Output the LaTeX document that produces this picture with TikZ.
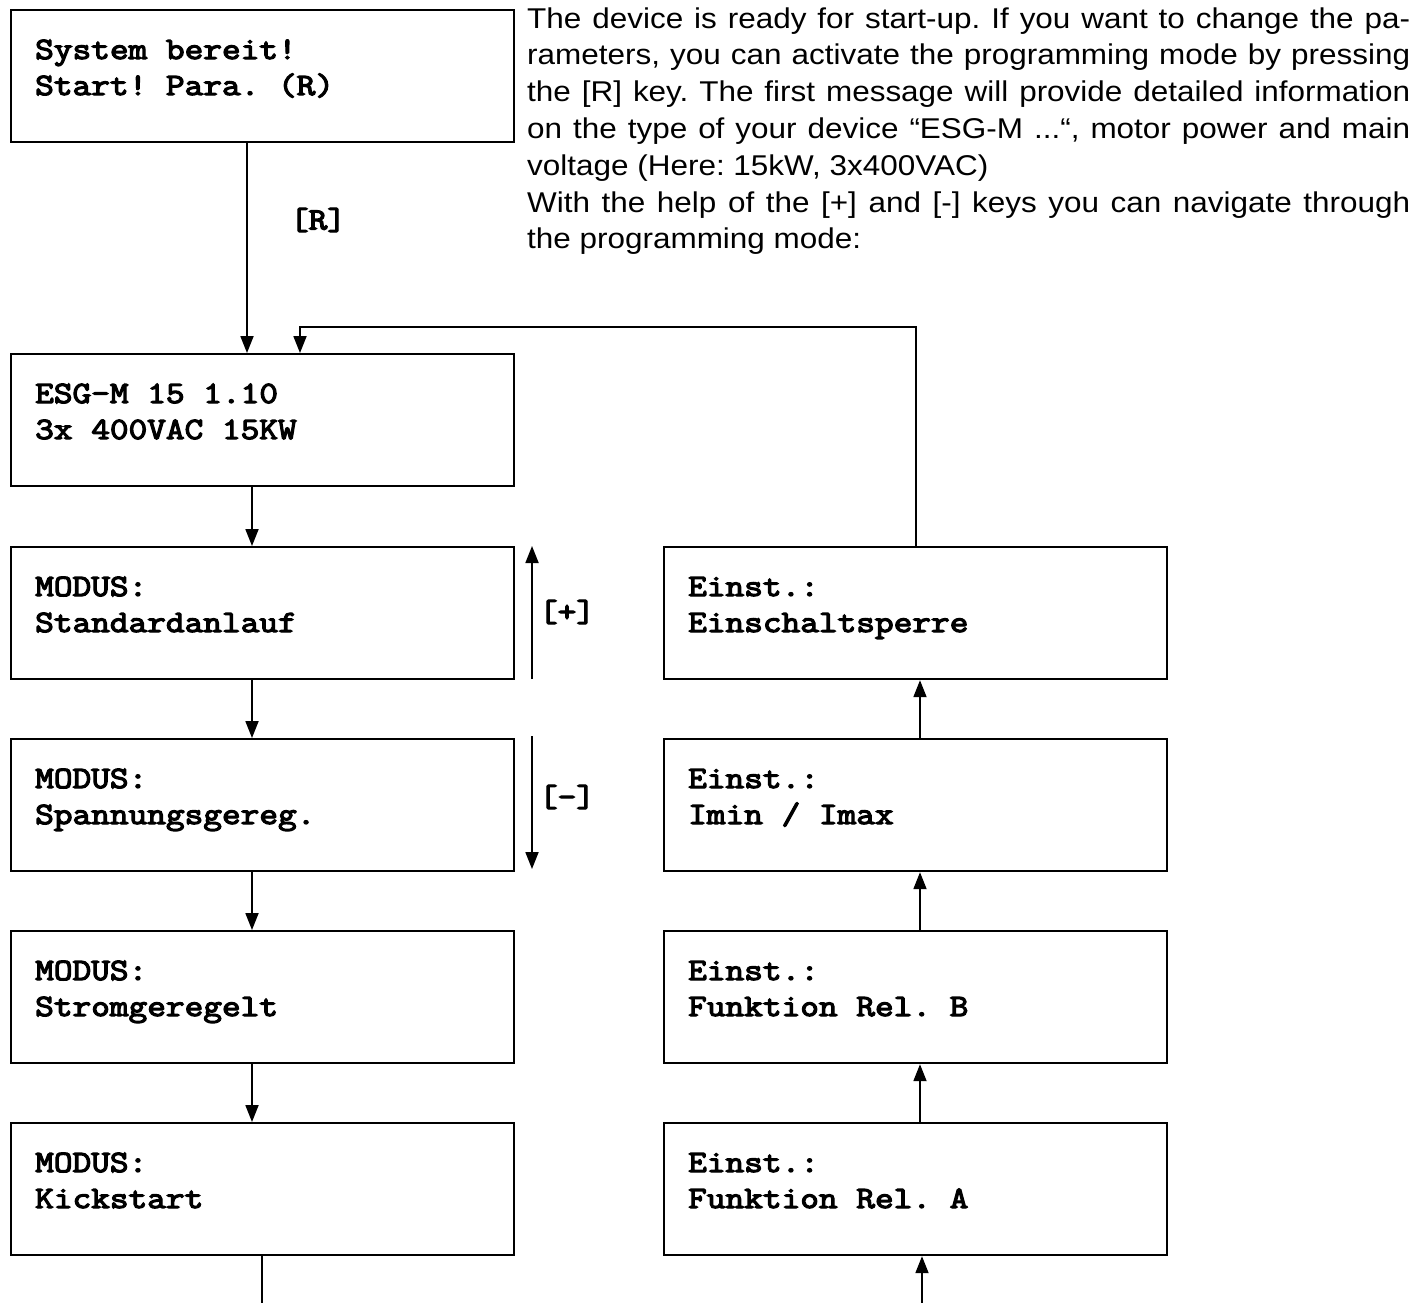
\documentclass[tikz,border=0pt]{standalone}
\usepackage{fontspec}
\setmainfont{Liberation Sans}
\newfontfamily\parafont[FakeStretch=1.1]{Liberation Sans}
\newfontfamily\lcdfont[FakeStretch=1.17,FakeBold=4]{Latin Modern Mono}
\usetikzlibrary{arrows.meta,calc}
\begin{document}
\begin{tikzpicture}[x=1pt,y=-1pt,
  box/.style={draw, line width=2.2pt, minimum width=503pt, minimum height=132pt, anchor=north west, inner sep=0pt},
  lcd/.style={font=\lcdfont\fontsize{31}{36}\selectfont\frenchspacing, anchor=base west, inner sep=0pt},
  key/.style={font=\lcdfont\fontsize{31}{36}\selectfont\frenchspacing, inner sep=0pt},
  arr/.style={line width=1.8pt, -{Triangle[length=17pt,width=13pt]}},
  ln/.style={line width=1.8pt}]
\useasboundingbox (0,0) rectangle (1421,1302);
\newcommand\lcdbox[5]{%
  \node[box] (#1) at (#2,#3) {};
  \node[lcd] (#1a) at ($(#1.north west)+(25,50)$) {#4};
  \node[lcd] (#1b) at ($(#1.north west)+(25,86)$) {#5};}
\lcdbox{b0}{10}{9}{System bereit!}{Start! Para. (R)}
\lcdbox{b1}{10}{353}{ESG-M 15 1.10}{3x 400VAC 15KW}
\lcdbox{L1}{10}{546}{MODUS:}{Standardanlauf}
\lcdbox{L2}{10}{738}{MODUS:}{Spannungsgereg.}
\lcdbox{L3}{10}{930}{MODUS:}{Stromgeregelt}
\lcdbox{L4}{10}{1122}{MODUS:}{Kickstart}
\lcdbox{R1}{663}{546}{Einst.:}{Einschaltsperre}
\lcdbox{R2}{663}{738}{Einst.:}{Imin / Imax}
\lcdbox{R3}{663}{930}{Einst.:}{Funktion Rel. B}
\lcdbox{R4}{663}{1122}{Einst.:}{Funktion Rel. A}

\node[anchor=base west, inner sep=0pt] (para) at (527,28) {\parbox[t]{883pt}{\parafont\fontsize{28.6}{36.8}\selectfont\frenchspacing\hyphenpenalty=10000 \tolerance=10000 \emergencystretch=50pt
The device is ready for start-up. If you want to change the pa-\linebreak
rameters, you can activate the programming mode by pressing\linebreak
the [R] key. The first message will provide detailed information\linebreak
on the type of your device “ESG-M ...“, motor power and main\linebreak
voltage (Here: 15kW, 3x400VAC)\\
With the help of the [+] and [-] keys you can navigate through\linebreak
the programming mode:}};

\node[key] (kR) at (318,220) {[R]};
\node[key] (kP) at (567,612) {[+]};
\node[key] (kM) at (567,797) {[-]};

\draw[arr] ([xshift=237pt]b0.south west) -- ([xshift=237pt]b1.north west);
\draw[arr] (R1.north) -- ++(0,-219) -| ([xshift=290pt]b1.north west);
\draw[arr] ([xshift=242pt]b1.south west) -- ([xshift=242pt]L1.north west);
\draw[arr] ([xshift=242pt]L1.south west) -- ([xshift=242pt]L2.north west);
\draw[arr] ([xshift=242pt]L2.south west) -- ([xshift=242pt]L3.north west);
\draw[arr] ([xshift=242pt]L3.south west) -- ([xshift=242pt]L4.north west);
\coordinate (lb) at (262,1304);
\draw[ln] ([xshift=252pt]L4.south west) -- (lb);
\draw[arr] ([xshift=257pt]R2.north west) -- ([xshift=257pt]R1.south west);
\draw[arr] ([xshift=257pt]R3.north west) -- ([xshift=257pt]R2.south west);
\draw[arr] ([xshift=257pt]R4.north west) -- ([xshift=257pt]R3.south west);
\coordinate (rb) at (922,1304);
\draw[arr] (rb) -- ([xshift=259pt]R4.south west);
\coordinate (pa) at (532,679);
\coordinate (pb) at (532,546);
\draw[arr] (pa) -- (pb);
\coordinate (ma) at (532,736);
\coordinate (mb) at (532,869);
\draw[arr] (ma) -- (mb);
\end{tikzpicture}
\end{document}
